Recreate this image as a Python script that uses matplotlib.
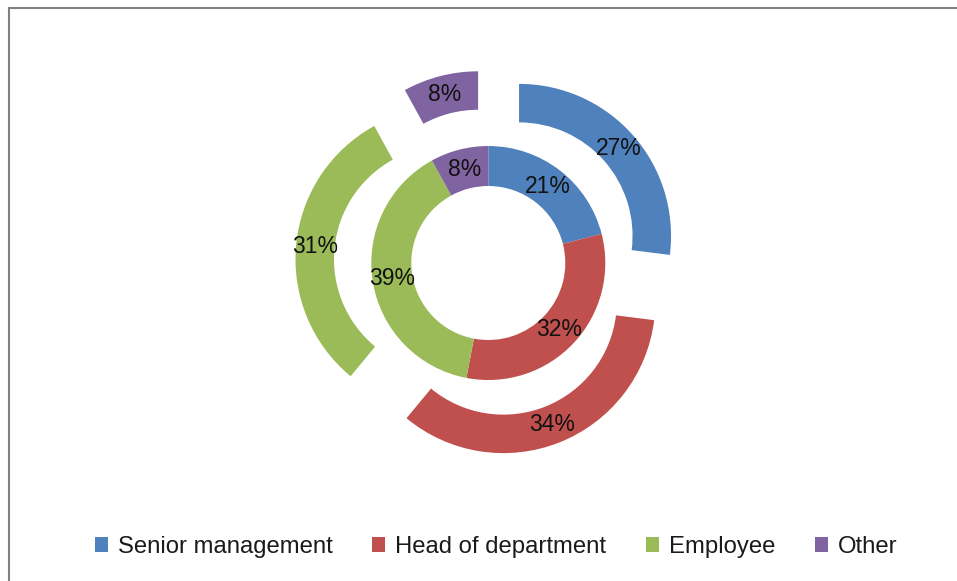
import matplotlib
matplotlib.use("Agg")
import matplotlib.pyplot as plt
from matplotlib.patches import Rectangle

# --------------------------------------------------
# DATA
# --------------------------------------------------

categories = ["Senior management", "Head of department", "Employee", "Other"]
outer_pct = [27, 34, 31, 8]
inner_pct = [21, 32, 39, 8]
colors = ["#4F81BD", "#C0504D", "#9BBB59", "#8064A2"]

# --------------------------------------------------
# FIGURE (axes in pixel units, y up)
# --------------------------------------------------

W, H = 957, 581
fig = plt.figure(figsize=(W / 100, H / 100), dpi=100)
ax = fig.add_axes([0, 0, 1, 1])

cx, cy = 488.3, H - 263.0
r_out, w_out, shift = 152.0, 38.5, 41.0
r_in, w_in = 117.0, 40.0

label_font = dict(family=["Liberation Sans", "DejaVu Sans"], size=16.5, color="#111111")

# outer ring, every wedge pulled out (explode is in data units)
wedges, _, _ = ax.pie(outer_pct, colors=colors, radius=r_out, center=(cx, cy),
                      startangle=90, counterclock=False,
                      explode=[shift] * len(outer_pct),
                      wedgeprops=dict(width=w_out, linewidth=0),
                      autopct=lambda p: f"{p:.0f}%",
                      pctdistance=(r_out - w_out / 2) / r_out,
                      textprops=label_font)

# inner ring
ax.pie(inner_pct, colors=colors, radius=r_in, center=(cx, cy),
       startangle=90, counterclock=False,
       wedgeprops=dict(width=w_in, linewidth=0),
       autopct=lambda p: f"{p:.0f}%",
       pctdistance=(r_in - w_in / 2) / r_in,
       textprops=label_font)

ax.set_xlim(0, W)
ax.set_ylim(0, H)
ax.set_aspect("auto")
ax.axis("off")

# chart frame
fig.patches.append(Rectangle((9, -20), W + 20, H - 8 + 20, transform=None,
                             fill=False, edgecolor="#808080", linewidth=1.5))

# --------------------------------------------------
# LEGEND
# --------------------------------------------------

fig.legend(wedges, categories, loc="center",
           bbox_to_anchor=(496 / W, 34 / H), ncol=4, frameon=False,
           prop=dict(family=["Liberation Sans", "DejaVu Sans"], size=17.2),
           handlelength=0.55, handleheight=0.55, handletextpad=0.42,
           columnspacing=1.65, labelcolor="#1a1a1a")

fig.savefig("out.png", dpi=100)
